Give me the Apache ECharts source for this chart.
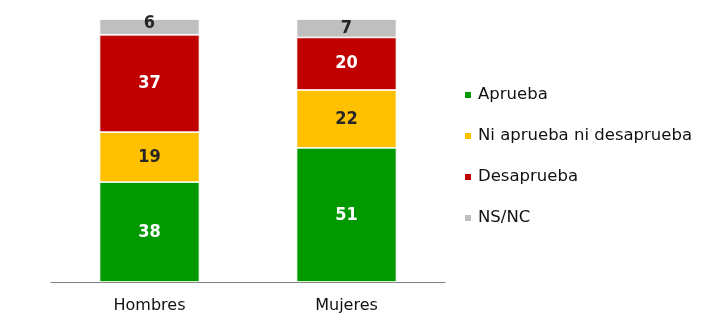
<!DOCTYPE html>
<html>
<head>
<meta charset="utf-8">
<script src="https://cdn.jsdelivr.net/npm/echarts@6/dist/echarts.min.js"></script>
<style>
html,body{margin:0;padding:0;background:#fff;}
#chart{width:719px;height:319px;}
</style>
</head>
<body>
<div id="chart"></div>
<script>
const categories = ['Hombres', 'Mujeres'];
const seriesNames = ['Aprueba', 'Ni aprueba ni desaprueba', 'Desaprueba', 'NS/NC'];
const aprueba = [38, 51];
const ni = [19, 22];
const desaprueba = [37, 20];
const nsnc = [6, 7];

const colors = ['#009900', '#FFC000', '#C00000', '#BFBFBF'];
const labelColors = ['#ffffff', '#262626', '#ffffff', '#262626'];
const values = [aprueba, ni, desaprueba, nsnc];

const chart = echarts.init(document.getElementById('chart'), null, {renderer: 'canvas'});
const series = values.map((vals, si) => ({
  name: seriesNames[si],
  type: 'bar',
  stack: 'total',
  barWidth: 100,
  itemStyle: {color: colors[si], borderColor: '#ffffff', borderWidth: 0.8},
  label: {
    show: true,
    position: 'inside',
    color: labelColors[si],
    fontFamily: '"DejaVu Sans Condensed", "DejaVu Sans", sans-serif',
    fontWeight: 'bold',
    fontSize: 18
  },
  data: vals.map((v, i) => (si === 3 && i === 0) ? {value: v, label: {offset: [0, -4]}} : v)
}));

chart.setOption({
  animation: false,
  backgroundColor: '#ffffff',
  grid: {left: 51, right: 274, top: 19, bottom: 37},
  legend: {
    orient: 'vertical',
    left: 463,
    top: 85,
    padding: 0,
    itemWidth: 8,
    itemHeight: 8,
    itemGap: 21,
    icon: 'rect',
    data: seriesNames,
    textStyle: {
      fontFamily: '"DejaVu Sans", sans-serif',
      fontSize: 16.5,
      color: '#111111',
      lineHeight: 20,
      padding: [0, 0, 0, 1]
    }
  },
  xAxis: {
    type: 'category',
    data: categories,
    axisLine: {lineStyle: {color: '#808080', width: 1}},
    axisTick: {show: false},
    axisLabel: {
      fontFamily: '"DejaVu Sans", sans-serif',
      fontSize: 16,
      color: '#111111',
      margin: 16
    }
  },
  yAxis: {
    type: 'value',
    min: 0,
    max: 100,
    show: false
  },
  series: series
});
</script>
</body>
</html>
